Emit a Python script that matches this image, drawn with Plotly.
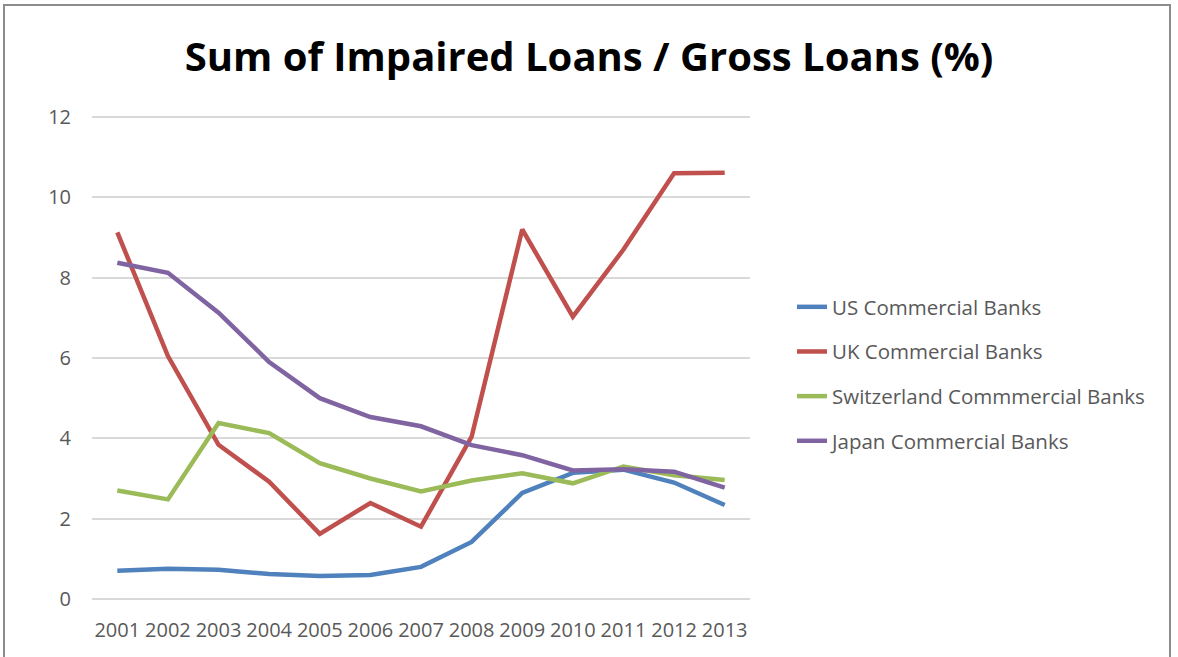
import plotly.graph_objects as go

years = ["2001", "2002", "2003", "2004", "2005", "2006", "2007", "2008", "2009", "2010", "2011", "2012", "2013"]
us = [0.70, 0.75, 0.73, 0.62, 0.57, 0.60, 0.80, 1.42, 2.64, 3.14, 3.22, 2.90, 2.34]
uk = [9.13, 6.05, 3.84, 2.92, 1.62, 2.39, 1.80, 4.04, 9.20, 7.03, 8.70, 10.60, 10.61]
swiss = [2.70, 2.48, 4.38, 4.13, 3.38, 3.00, 2.68, 2.95, 3.13, 2.88, 3.30, 3.08, 2.96]
japan = [8.37, 8.12, 7.13, 5.90, 5.00, 4.53, 4.30, 3.83, 3.58, 3.20, 3.23, 3.17, 2.77]

series = [
    ("US Commercial Banks", us, "#4F81BD"),
    ("UK Commercial Banks", uk, "#C0504D"),
    ("Switzerland Commmercial Banks", swiss, "#9BBB59"),
    ("Japan Commercial Banks", japan, "#8064A2"),
]

fig = go.Figure()
for i, (name, vals, color) in enumerate(series):
    fig.add_trace(go.Scatter(
        x=years, y=vals, name=name, mode="lines",
        line=dict(color=color, width=4.5),
        legendgroup=f"g{i}",
    ))

# plot area spans y pixels 113..603 (490 px) for range -0.1..12.1
H = 490
def py(p):
    return (603 - p) / H

fig.update_layout(
    width=1178, height=657,
    margin=dict(l=92, r=428, t=113, b=54),
    paper_bgcolor="white", plot_bgcolor="white",
    font=dict(family="Open Sans", color="#595959", size=20),
    title=dict(text="<b>Sum of Impaired Loans / Gross Loans (%)</b>",
               font=dict(family="Open Sans", size=40, color="black"),
               x=0.5, xanchor="center", y=1 - 57 / 657, yanchor="middle"),
    showlegend=True,
    legend=dict(x=(792 - 92) / 658, xanchor="left", y=py(374), yanchor="middle",
                tracegroupgap=15, font=dict(size=20.5, color="#595959"),
                bgcolor="rgba(0,0,0,0)"),
    xaxis=dict(type="category", range=[-0.5, 12.5], showgrid=False,
               showline=False, ticks="outside", ticklen=9, tickcolor="rgba(0,0,0,0)",
               tickfont=dict(size=20)),
    yaxis=dict(range=[-0.1, 12.1], tickvals=[0, 2, 4, 6, 8, 10, 12], showgrid=True,
               gridcolor="#D9D9D9", gridwidth=1.5,
               zeroline=False, showline=False, ticks="outside", ticklen=16,
               tickcolor="rgba(0,0,0,0)", tickfont=dict(size=20)),
    shapes=[dict(type="rect", xref="paper", yref="paper",
                 x0=(4 - 92) / 658, x1=(1170 - 92) / 658,
                 y0=py(700), y1=py(5),
                 line=dict(color="#8C8C8C", width=2), fillcolor="rgba(0,0,0,0)", layer="below")],
)

fig.write_html("out.html")
